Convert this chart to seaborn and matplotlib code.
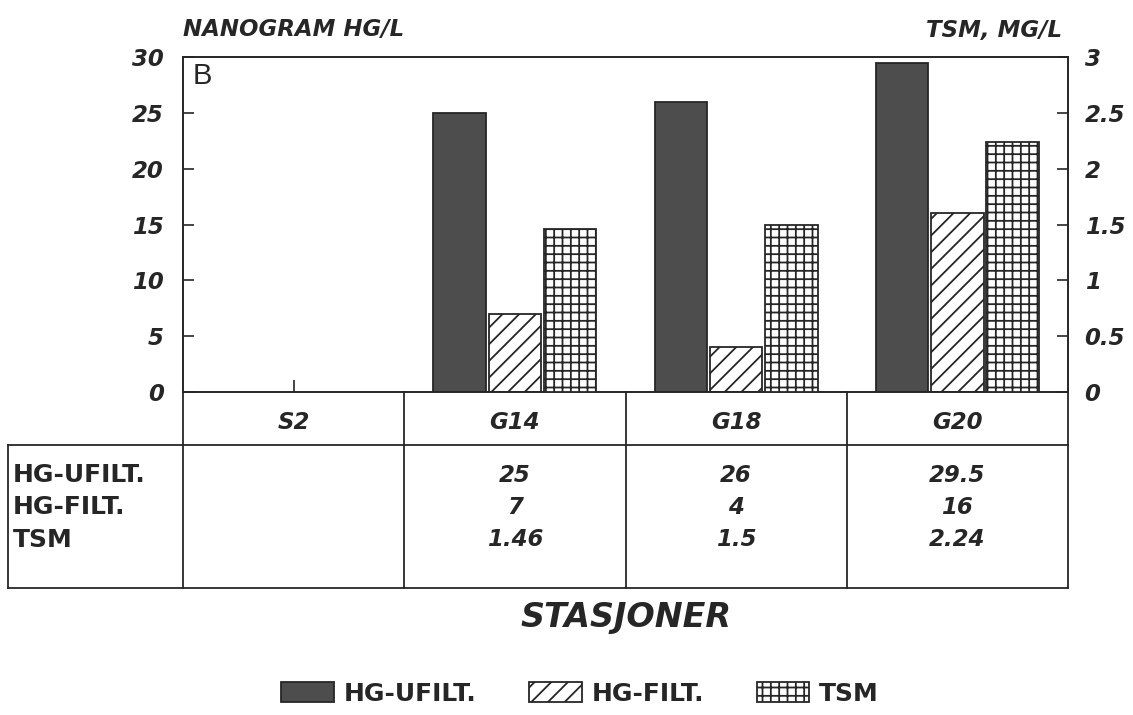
import numpy as np
import pandas as pd
import matplotlib
matplotlib.use("Agg")
import matplotlib.pyplot as plt
from matplotlib import transforms
import seaborn as sns

# --- data -------------------------------------------------------------
stations = ["S2", "G14", "G18", "G20"]
series = ["HG-UFILT.", "HG-FILT.", "TSM"]
hg_ufilt = [np.nan, 25, 26, 29.5]   # ng Hg/L, unfiltered
hg_filt = [np.nan, 7, 4, 16]        # ng Hg/L, filtered
tsm = [np.nan, 1.46, 1.5, 2.24]     # total suspended matter, mg/L
hg_ticks = [0, 5, 10, 15, 20, 25, 30]
tsm_ticks = [0, 0.5, 1, 1.5, 2, 2.5, 3]

# --- style ------------------------------------------------------------
sns.set_style("white")
ink = "#262626"
plt.rcParams.update({
    "font.family": ["DejaVu Sans"],
    "hatch.linewidth": 1.3,
    "hatch.color": ink,
    "axes.edgecolor": ink,
    "axes.linewidth": 1.4,
})
bold_it = dict(family="DejaVu Sans", weight="bold", style="italic", color=ink)
bold = dict(family="DejaVu Sans", weight="bold", color=ink)

W, H = 1133, 715
fig = plt.figure(figsize=(W / 100, H / 100), dpi=100)
L, R, TOP, BASE = 183, 1068, 57, 392
ax = fig.add_axes([L / W, 1 - BASE / H, (R - L) / W, (BASE - TOP) / H])
ax2 = ax.twinx()

df = pd.DataFrame({
    "station": stations * 3,
    "series": np.repeat(series, len(stations)),
    "value": hg_ufilt + hg_filt + tsm,
}).dropna(subset=["value"])

palette = {"HG-UFILT.": "#4d4d4d", "HG-FILT.": "white", "TSM": "white"}
styles = {"HG-UFILT.": (ax, None), "HG-FILT.": (ax, "//"), "TSM": (ax2, "++")}
handles = []
for name in series:
    target, hatch = styles[name]
    start = len(target.containers)
    sns.barplot(
        data=df[df["series"] == name], x="station", y="value",
        hue="series", order=stations, hue_order=series, palette=palette,
        saturation=1, width=0.75, gap=0.05, dodge=True, errorbar=None,
        edgecolor=ink, linewidth=1.3, hatch=hatch, legend=False, ax=target,
    )
    made = [c for c in target.containers[start:] if len(c)]
    handles.append(made[0])

# --- axes -------------------------------------------------------------
ax.set_xlim(-0.5, len(stations) - 0.5)
ax.set_ylim(hg_ticks[0], hg_ticks[-1])
ax2.set_ylim(tsm_ticks[0], tsm_ticks[-1])
for a in (ax, ax2):
    a.set_xlabel("")
    a.set_ylabel("")
for s in ax2.spines.values():
    s.set_visible(False)

ax.set_yticks(hg_ticks)
ax.set_yticklabels([f"{v:g}" for v in hg_ticks], fontsize=16.5, **bold_it)
ax.tick_params(axis="y", direction="in", length=8, width=1.2, pad=14,
               color=ink, left=True, right=False)
ax2.set_yticks(tsm_ticks)
ax2.set_yticklabels([f"{v:g}" for v in tsm_ticks], fontsize=16.5, **bold_it)
ax2.tick_params(axis="y", direction="in", length=8, width=1.2, pad=12,
                color=ink, right=True, left=False)

ax.set_xticks(range(len(stations)))
ax.set_xticklabels(stations, fontsize=16.5, **bold_it)
ax.tick_params(axis="x", direction="in", length=9, width=1.2, pad=14,
               color=ink, bottom=True)

ax.text(0.011, 0.985, "B", transform=ax.transAxes, ha="left", va="top",
        family="Liberation Sans", fontsize=21, color=ink)

fig.text(L / W, 1 - 30 / H, "NANOGRAM HG/L", ha="left", va="center",
         fontsize=16.5, **bold_it)
fig.text(1062 / W, 1 - 30 / H, "TSM, MG/L", ha="right", va="center",
         fontsize=16.5, **bold_it)

# --- value table under the bars --------------------------------------
tab = fig.add_axes([0, 0, 1, 1])
tab.set_xlim(0, W)
tab.set_ylim(H, 0)
tab.axis("off")
cols = transforms.blended_transform_factory(ax.transData, tab.transData)

row_top, row_bot, left_edge = 445, 588, 8
line_kw = dict(color=ink, lw=1.3, solid_capstyle="projecting")
tab.plot([left_edge, R], [row_top, row_top], **line_kw)
tab.plot([left_edge, R], [row_bot, row_bot], **line_kw)
tab.plot([left_edge, left_edge], [row_top, row_bot], **line_kw)
for i in range(len(stations) + 1):
    tab.plot([i - 0.5, i - 0.5], [BASE, row_bot], transform=cols, **line_kw)

row_y = [475, 507, 540]
for y, name, values in zip(row_y, series, [hg_ufilt, hg_filt, tsm]):
    tab.text(13, y, name, ha="left", va="center", fontsize=18, **bold)
    for i, v in enumerate(values):
        if not np.isnan(v):
            tab.text(i, y, f"{v:g}", transform=cols, ha="center",
                     va="center", fontsize=16.5, **bold_it)

fig.text(626 / W, 1 - 618 / H, "STASJONER", ha="center", va="center",
         fontsize=24, **bold_it)

fig.legend(handles, series, loc="center", bbox_to_anchor=(580 / W, 1 - 694 / H),
           ncol=3, frameon=False, prop=dict(family="DejaVu Sans", weight="bold", size=18),
           labelcolor=ink, handlelength=2.1, handleheight=0.85,
           handletextpad=0.4, columnspacing=2.1)

fig.savefig("out.png", dpi=100, facecolor="white")
